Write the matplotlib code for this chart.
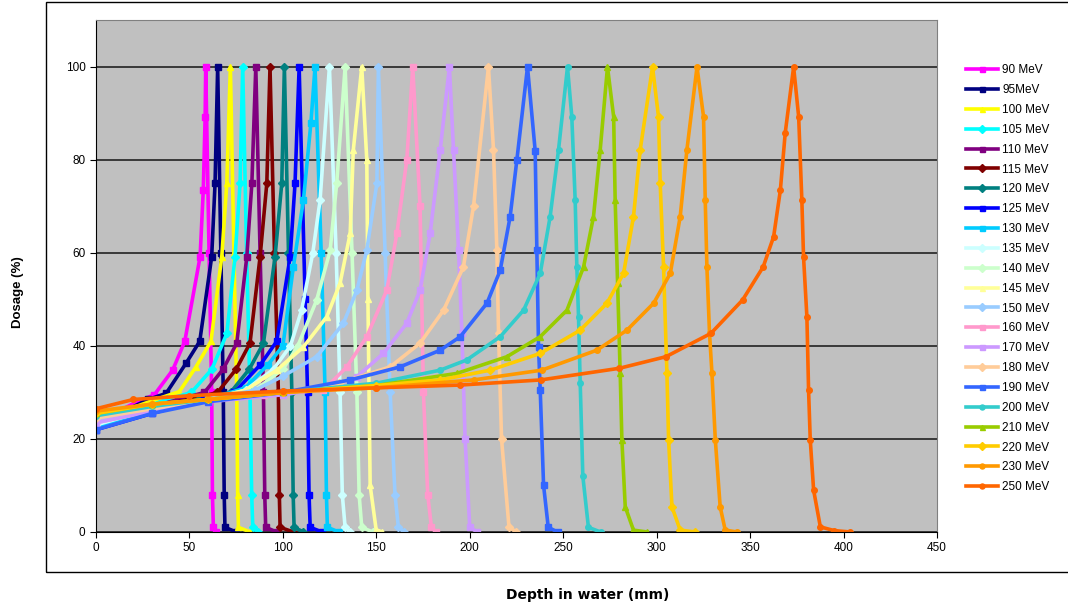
import matplotlib
matplotlib.use("Agg")
import matplotlib.pyplot as plt
from matplotlib.patches import Rectangle

# Curvas de dosis en profundidad (Bragg)
d90 = [0, 12, 22, 31.2, 41, 47.5, 55.7, 57.4, 58.4, 58.7, 60.5, 61.9, 62.3, 62.8, 64.3]
y90 = [23.5, 26, 28, 29.5, 34.8, 41, 59.2, 73.5, 89.3, 100, 60, 30, 8, 1, 0]
d95 = [0, 15, 28, 37.5, 48.2, 55.5, 61.9, 63.7, 65.1, 66.8, 68.1, 68.6, 69, 75]
y95 = [23, 26, 28.5, 29.8, 36.3, 41, 59.2, 75, 100, 60, 30, 8, 1, 0]
d100 = [0, 18, 32, 44.6, 53.5, 61.5, 67.3, 70, 71.9, 73.8, 75.3, 75.8, 76.2, 82.4]
y100 = [24, 26.5, 28.5, 30.2, 35.5, 41, 59.2, 75, 100, 60, 30, 8, 1, 0]
d105 = [0, 20, 38, 51, 62, 70, 74.4, 77.1, 78.5, 80.6, 82.4, 83.3, 83.9, 86.9]
y105 = [23.5, 26, 28.5, 30, 35, 42.7, 59.2, 75, 100, 60, 30, 8, 1, 0]
d110 = [0, 22, 44, 58, 68, 75.3, 80.7, 83.4, 85.5, 87.8, 89.6, 90.3, 90.8, 96.7]
y110 = [23, 26, 28.5, 30, 35, 40.6, 59.2, 75, 100, 60, 30, 8, 1, 0]
d115 = [0, 25, 50, 65, 75, 82.4, 87.8, 91.4, 93.1, 95.5, 97.6, 98.1, 98.5, 105.6]
y115 = [24, 26.5, 28.5, 30, 35, 40.6, 59.2, 75, 100, 60, 30, 8, 1, 0]
d120 = [0, 28, 55, 72, 82, 89.6, 95.8, 99.4, 100.8, 103, 104.8, 105.5, 106, 111]
y120 = [23, 26, 28.5, 30, 35, 40.6, 59.2, 75, 100, 60, 30, 8, 1, 0]
d125 = [0, 30, 58, 74, 88, 96.7, 103.9, 106.5, 108.7, 111.9, 113.2, 114, 114.6, 121]
y125 = [22, 25.5, 28.5, 30, 36, 41, 59.2, 75, 100, 50, 30, 8, 1, 0]
d130 = [0, 30, 60, 80, 92, 100, 105.6, 111, 115, 117.2, 120.5, 122.6, 123.3, 123.8, 130]
y130 = [22.5, 26, 28.5, 31, 36, 40, 57, 71.4, 88, 100, 60, 30, 8, 1, 0]
d135 = [0, 30, 60, 80, 95, 104, 110, 116, 119.9, 124.9, 128.5, 130.6, 131.8, 133.3, 136]
y135 = [23, 26.5, 28.5, 30.5, 35, 40, 47.7, 60, 71.4, 100, 60, 30, 8, 1, 0]
d140 = [0, 30, 60, 85, 100, 108, 118.1, 125.3, 128.8, 133.3, 137, 139.6, 140.8, 142.2, 148]
y140 = [24, 26.5, 28.5, 30.5, 35, 40, 49.9, 60.6, 75, 100, 60, 30, 8, 1, 0]
d145 = [0, 30, 60, 80, 96.7, 111, 123.5, 130.6, 136, 137.7, 142.2, 144.9, 145.5, 146.7, 149.9, 153]
y145 = [24.5, 26.5, 28.5, 30.5, 34.8, 39.8, 46.3, 53.5, 64.2, 82.2, 100, 80, 50, 10, 0.5, 0]
d150 = [0, 30, 60, 85, 100, 118.1, 132.4, 139.6, 144.9, 150.3, 151.1, 154.7, 157.4, 160, 161.8, 165]
y150 = [24, 26.5, 28.5, 30.5, 33.5, 37.7, 44.9, 52, 60.6, 75, 100, 60, 30, 8, 1, 0]
d160 = [0, 30, 60, 90, 121.7, 134.2, 144.9, 155.6, 161, 166.3, 169.5, 173.4, 175.2, 177.5, 179.5, 182]
y160 = [23.5, 26, 28, 29.5, 30.5, 35.5, 42, 52, 64.2, 80, 100, 70, 30, 8, 1, 0]
d170 = [0, 30, 60, 100, 125, 139.6, 153.8, 166.3, 173.4, 178.8, 184.2, 189.1, 191.3, 194, 195.8, 197.5, 200, 204]
y170 = [23.5, 26, 28, 29.5, 31, 33.4, 38.4, 44.9, 52, 64.2, 82.2, 100, 82.2, 60.6, 42.7, 20, 1, 0]
d180 = [0, 30, 60, 100, 130, 157.4, 173.4, 186, 196.6, 202, 210, 212.7, 214.5, 215.4, 217, 221, 225]
y180 = [24.5, 26.5, 28.5, 30, 32, 35.5, 40.6, 47.7, 57, 70, 100, 82.2, 60.6, 42.7, 20, 1, 0]
d190 = [0, 30, 60, 100, 136, 162.7, 184.2, 194.9, 209.2, 216.3, 221.6, 225.2, 230.9, 235, 235.9, 236.8, 237.7, 239.5, 242, 247]
y190 = [22, 25.5, 28, 30, 32.7, 35.5, 39.1, 42, 49.2, 56.3, 67.8, 80, 100, 82, 60.6, 39.8, 30.5, 10, 1, 0]
d200 = [0, 30, 60, 100, 150, 184.2, 198.4, 216.3, 228.8, 237.7, 243, 247.5, 252.3, 254.6, 256.4, 257.3, 258.2, 259.1, 260.5, 263.5, 270]
y200 = [25, 27, 28.5, 30, 32, 34.8, 37, 42, 47.7, 55.6, 67.8, 82.2, 100, 89.3, 71.4, 57, 46.3, 32, 12, 1, 0]
d210 = [0, 30, 60, 100, 150, 193.1, 219.9, 237.7, 252, 260.9, 266.2, 269.8, 273.7, 277, 277.8, 279.1, 280.5, 281.4, 283.2, 287.6, 294.8]
y210 = [25.5, 27.5, 28.5, 30, 31.5, 34.1, 37.7, 42, 47.7, 57, 67.8, 82.2, 100, 89.3, 71.4, 53.5, 34.1, 19.8, 5.4, 0.4, 0]
d220 = [0, 30, 60, 100, 150, 184.2, 210.9, 237.7, 259.1, 273.4, 282.3, 287.6, 291.2, 297.8, 301, 301.9, 303.7, 305.5, 306.4, 308.2, 312.6, 320.7]
y220 = [25.5, 27.5, 28.5, 30, 31.5, 32.7, 34.8, 38.4, 43.4, 49.2, 55.6, 67.8, 82.2, 100, 89.3, 75, 57, 34.1, 19.8, 5.4, 0.4, 0]
d230 = [0, 30, 60, 100, 150, 202, 238.5, 268, 284.1, 298.4, 307.3, 312.6, 316.2, 321.6, 325.1, 326, 326.9, 328.3, 329.6, 331.4, 334, 336.7, 343]
y230 = [26, 27.5, 28.5, 30, 31, 32.7, 34.8, 39.1, 43.4, 49.2, 55.6, 67.8, 82.2, 100, 89.3, 71.4, 57, 42.7, 34.1, 19.8, 5.4, 0.4, 0]
d250 = [0, 20, 50, 100, 150, 195, 238, 280, 305, 329, 346, 357, 362.6, 366.2, 368.8, 373.3, 376, 377.7, 378.6, 380.4, 381.3, 382.2, 384, 387.6, 395, 403.6]
y250 = [26.5, 28.5, 29.3, 30.3, 31, 31.6, 32.7, 35.2, 37.7, 42.7, 49.9, 57, 63.5, 73.5, 85.8, 100, 89.3, 71.4, 59.2, 46.3, 30.5, 19.8, 9, 1.1, 0.3, 0]

etiquetas = ["90 MeV", "95MeV", "100 MeV", "105 MeV", "110 MeV", "115 MeV", "120 MeV",
             "125 MeV", "130 MeV", "135 MeV", "140 MeV", "145 MeV", "150 MeV", "160 MeV",
             "170 MeV", "180 MeV", "190 MeV", "200 MeV", "210 MeV", "220 MeV", "230 MeV",
             "250 MeV"]
colores = ["#FF00FF", "#000080", "#FFFF00", "#00FFFF", "#800080", "#800000", "#008080",
           "#0000FF", "#00CCFF", "#CCFFFF", "#CCFFCC", "#FFFF99", "#99CCFF", "#FF99CC",
           "#CC99FF", "#FFCC99", "#3366FF", "#33CCCC", "#99CC00", "#FFCC00", "#FF9900",
           "#FF6600"]
marcadores = ["s", "s", "^", "D", "s", "D", "D", "s", "s", "D", "D", "^", "D", "s",
              "s", "D", "s", "o", "^", "D", "o", "o"]

series = [(d90, y90), (d95, y95), (d100, y100), (d105, y105), (d110, y110), (d115, y115),
          (d120, y120), (d125, y125), (d130, y130), (d135, y135), (d140, y140),
          (d145, y145), (d150, y150), (d160, y160), (d170, y170), (d180, y180),
          (d190, y190), (d200, y200), (d210, y210), (d220, y220), (d230, y230),
          (d250, y250)]

plt.rcParams['font.family'] = ['Liberation Sans', 'DejaVu Sans']

fig = plt.figure(figsize=(10.68, 6.1), dpi=100)
ax = fig.add_axes([0.0899, 0.1279, 0.7874, 0.8385])
ax.set_facecolor("#C0C0C0")

for (x, y), lab, col, mk in zip(series, etiquetas, colores, marcadores):
    ax.plot(x, y, color=col, lw=2.6, marker=mk, ms=4, mec=col, mfc=col, label=lab)

ax.set_xlim(0, 450)
ax.set_ylim(0, 110)
ax.set_xticks(range(0, 451, 50))
ax.set_yticks(range(0, 101, 20))
ax.yaxis.grid(True, color="#222222", lw=1.2)
ax.set_axisbelow(True)
ax.tick_params(axis="both", labelsize=8.5, length=4, direction="out", color="black")
ax.spines["left"].set_color("black")
ax.spines["bottom"].set_color("black")
ax.spines["top"].set_color("#808080")
ax.spines["right"].set_color("#808080")

# Etiquetas de los ejes fuera del marco
fig.text(0.5506, 0.0246, "Depth in water (mm)", ha="center", va="center",
         fontsize=10, fontweight="bold", family="DejaVu Sans")
fig.text(0.0169, 0.5213, "Dosage (%)", ha="center", va="center", rotation=90,
         fontsize=9.5, fontweight="bold")

# Marco exterior del grafico
fig.patches.append(Rectangle((0.0431, 0.0623), 0.96, 0.9344, transform=fig.transFigure,
                             fill=False, edgecolor="black", lw=1))

fig.legend(loc="upper left", bbox_to_anchor=(0.9045, 0.8945), frameon=False,
           fontsize=8.5, labelspacing=0.665, handlelength=2.75, handletextpad=0.3,
           borderpad=0, borderaxespad=0, markerscale=0.9)

fig.savefig("out.png", dpi=100)
